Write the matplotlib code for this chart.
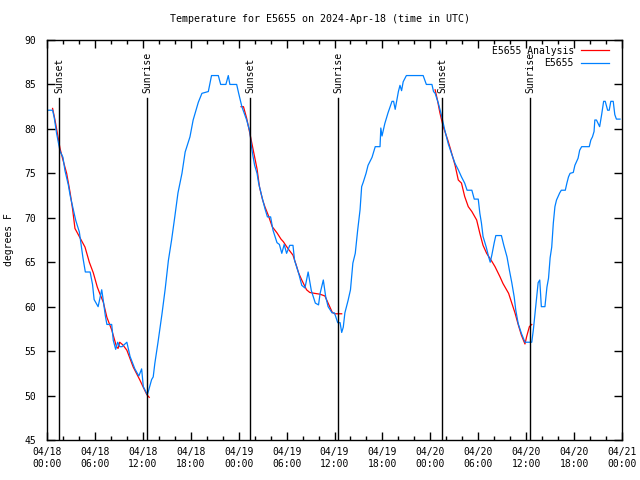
import matplotlib
matplotlib.use("Agg")
import matplotlib.pyplot as plt
import matplotlib.dates as mdates
import numpy as np
from datetime import datetime, timedelta

title = "Temperature for E5655 on 2024-Apr-18 (time in UTC)"
start = datetime(2024, 4, 18, 0, 0)

# station observations (hours since 04/18 00:00, deg F)
obs_hours = [0.0, 0.7, 0.9, 1.2, 1.63, 2.0, 2.25, 2.67, 2.9, 3.3, 3.6, 4.05, 4.3, 4.5,
             4.8, 5.4, 5.7, 5.9, 6.4, 6.85, 7.0, 7.3, 7.5, 8.1, 8.3, 8.6, 8.85, 9.1,
             9.4, 10.0, 10.4, 11.0, 11.5, 11.85, 12.06, 12.56, 12.7, 13.1, 13.3, 13.5,
             13.9, 14.4, 14.8, 15.2, 15.6, 16.0, 16.4, 16.9, 17.3, 17.9, 18.3, 18.95,
             19.4, 20.2, 20.6, 21.45, 21.75, 22.4, 22.7, 22.9, 23.75, 24.0, 24.4, 25.0,
             25.4, 25.6, 25.8, 26.0, 26.3, 26.5, 26.9, 27.3, 27.6, 28.0, 28.3, 28.8,
             29.1, 29.4, 29.7, 30.0, 30.4, 30.8, 31.0, 31.5, 31.9, 32.3, 32.7, 33.1,
             33.6, 34.0, 34.2, 34.6, 34.9, 35.2, 35.7, 36.0, 36.4, 36.7, 36.9, 37.1,
             37.3, 37.7, 38.0, 38.3, 38.6, 38.9, 39.2, 39.4, 39.6, 39.95, 40.2, 40.7,
             41.1, 41.7, 41.8, 41.95, 42.3, 42.7, 43.2, 43.4, 43.6, 44.0, 44.2, 44.4,
             44.6, 45.0, 47.1, 47.5, 48.2, 48.4, 48.6, 49.0, 49.4, 49.8, 50.25, 50.7,
             51.1, 51.5, 51.9, 52.3, 52.6, 53.2, 53.5, 54.0, 54.2, 54.4, 54.6, 55.0,
             55.3, 55.5, 55.7, 56.0, 56.2, 56.9, 57.2, 57.6, 57.9, 58.2, 58.5, 58.7,
             59.0, 59.4, 59.85, 60.7, 60.9, 61.2, 61.5, 61.7, 61.8, 61.9, 62.35, 62.6,
             62.8, 63.0, 63.2, 63.4, 63.6, 63.8, 64.2, 64.4, 64.9, 65.1, 65.3, 65.5,
             65.9, 66.1, 66.5, 66.7, 66.95, 67.9, 68.1, 68.3, 68.5, 68.6, 68.8, 69.2,
             69.45, 69.7, 69.9, 70.2, 70.4, 70.6, 70.9, 71.1, 71.3, 71.75]
obs_temps = [82.1, 82.1, 81.3, 79.5, 77.5, 76.8, 75.3, 73.7, 72.5, 70.9, 69.7, 68.4, 66.8, 65.5,
             63.9, 63.9, 62.5, 60.8, 60.0, 61.9, 61.0, 59.0, 58.0, 58.0, 56.2, 55.2, 56.0, 55.5,
             55.5, 56.0, 54.4, 53.0, 52.2, 53.0, 51.0, 50.1, 50.5, 51.8, 52.1, 53.6,
             56.0, 59.2, 62.0, 65.2, 67.5, 70.1, 72.8, 75.0, 77.4, 79.1, 81.0, 83.0,
             84.0, 84.2, 86.0, 86.0, 85.0, 85.0, 86.0, 85.0, 85.0, 84.0, 82.5, 81.0,
             79.7, 78.0, 76.9, 75.9, 75.0, 73.9, 72.4, 71.0, 70.1, 70.1, 68.6, 67.2,
             67.0, 66.0, 67.0, 66.0, 66.9, 66.9, 65.2, 63.8, 62.4, 62.1, 63.9, 61.8,
             60.4, 60.2, 61.5, 63.0, 61.1, 60.0, 59.3, 59.3, 58.2, 58.2, 57.1, 57.7,
             59.3, 60.7, 61.9, 64.9, 66.0, 68.6, 70.9, 73.5, 74.0, 75.0, 75.9, 76.8,
             78.0, 78.0, 80.1, 79.2, 80.6, 81.8, 83.1, 83.1, 82.2, 84.2, 84.9, 84.3,
             85.3, 86.0, 86.0, 85.0, 85.0, 84.2, 84.0, 82.9, 81.5, 79.9, 78.3, 77.1,
             76.1, 75.4, 74.6, 73.9, 73.1, 73.1, 72.1, 72.1, 70.5, 69.4, 67.9, 66.7,
             65.6, 65.0, 65.8, 67.2, 68.0, 68.0, 66.9, 65.6, 64.1, 62.7, 61.1, 59.6,
             58.1, 57.0, 56.0, 56.0, 57.4, 60.0, 62.7, 63.0, 61.5, 60.0, 60.0, 62.2,
             63.2, 65.5, 66.7, 69.4, 71.25, 72.0, 72.8, 73.1, 73.1, 73.9, 74.6, 75.0,
             75.1, 75.9, 76.7, 77.6, 78.0, 78.0, 78.75, 79.1, 79.7, 81.0, 81.0, 80.25,
             81.6, 83.1, 83.1, 82.1, 82.1, 83.1, 83.1, 81.6, 81.1, 81.1]

# analysis, night-time only (nan separates the three nights)
ana_hours = [0.7, 1.0, 1.3, 1.63, 2.0, 2.46, 2.9, 3.2, 3.5, 4.1, 4.76, 5.3, 5.8, 6.3, 6.6,
             7.05, 7.5, 8.1, 8.7, 8.9, 9.1, 9.5, 10.0, 10.8, 11.6, 12.5, 12.8, np.nan,
             24.3, 24.6, 25.0, 25.4, 25.85, 26.3, 26.6, 27.0, 27.3, 27.7, 28.2, 28.8,
             29.3, 29.6, 30.2, 30.8, 31.2, 31.5, 31.9, 32.5, 32.9, 33.5, 34.2, 34.8,
             35.2, 35.7, 36.0, 36.9, np.nan,
             48.6, 48.9, 49.2, 49.6, 50.2, 50.5, 51.1, 51.5, 51.9, 52.3, 52.75, 53.2,
             53.8, 54.2, 54.6, 55.05, 55.7, 56.1, 56.7, 57.1, 57.8, 58.2, 58.6, 59.0,
             59.4, 59.85, 60.05, 60.4, 60.7]
ana_temps = [82.3, 81.0, 79.5, 77.8, 76.5, 75.0, 72.8, 71.0, 68.8, 67.8, 66.7, 65.0, 63.8, 62.2, 61.5,
             60.5, 58.8, 57.4, 55.5, 55.3, 56.0, 55.7, 55.1, 53.2, 51.8, 50.1, 49.8, np.nan,
             82.5, 82.5, 81.2, 79.5, 77.5, 75.5, 73.5, 72.0, 71.2, 70.3, 69.0, 68.3,
             67.6, 67.3, 66.5, 65.8, 64.7, 63.8, 63.0, 61.9, 61.6, 61.5, 61.4, 61.2,
             60.4, 59.4, 59.2, 59.2, np.nan,
             84.4, 83.2, 81.8, 80.3, 78.7, 77.8, 75.9, 74.25, 73.9, 72.4, 71.25, 70.7,
             69.75, 68.25, 66.9, 66.0, 65.1, 64.5, 63.4, 62.6, 61.5, 60.4, 59.3, 58.0,
             56.8, 55.8, 56.6, 57.75, 58.0]

events = ["Sunset", "Sunrise", "Sunset", "Sunrise", "Sunset", "Sunrise"]
event_hours = [1.55, 12.55, 25.42, 36.48, 49.5, 60.48]


def hours_to_num(h):
    if np.isnan(h):
        return np.nan
    return mdates.date2num(start + timedelta(hours=h))


plt.rcParams['font.family'] = ['DejaVu Sans Mono']
plt.rcParams['font.size'] = 7

fig = plt.figure(figsize=(6.4, 4.8), dpi=100)
ax = fig.add_axes([47 / 640, 40 / 480, 575 / 640, 400 / 480])

ana_x = [hours_to_num(h) for h in ana_hours]
obs_x = [hours_to_num(h) for h in obs_hours]

ax.plot(ana_x, ana_temps, color='#ff0000', lw=0.9, label='E5655 Analysis')
ax.plot(obs_x, obs_temps, color='#0080ff', lw=0.9, label='E5655')

# sunrise / sunset markers
for name, h in zip(events, event_hours):
    t = hours_to_num(h)
    ax.plot([t, t], [0, 0.855], color='black', lw=1.0,
            transform=ax.get_xaxis_transform())
    ax.text(t, 0.868, name, rotation=90, ha='center', va='bottom',
            transform=ax.get_xaxis_transform())

ax.set_xlim(hours_to_num(0), hours_to_num(72))
ax.set_ylim(45, 90)
ax.set_yticks(np.arange(45, 91, 5))
ax.xaxis.set_major_locator(mdates.HourLocator(byhour=[0, 6, 12, 18]))
ax.xaxis.set_minor_locator(mdates.HourLocator(interval=2))
ax.xaxis.set_major_formatter(mdates.DateFormatter('%m/%d\n%H:%M'))
ax.tick_params(which='both', direction='in', top=True, right=True, width=1)
ax.tick_params(which='major', length=6)
ax.tick_params(which='minor', length=3)
ax.tick_params(axis='x', which='major', pad=5)
ax.tick_params(axis='y', which='major', pad=8)
for s in ax.spines.values():
    s.set_linewidth(1.0)

ax.set_ylabel('degrees F')
ax.yaxis.set_label_coords(-0.058, 0.5)
fig.text(0.5, 1 - 19 / 480, title, ha='center', va='center', fontsize=7.2)

ax.legend(loc='upper right', bbox_to_anchor=(0.984, 0.995), borderaxespad=0,
          frameon=False, markerfirst=False, handlelength=2.9,
          labelspacing=0.25, handletextpad=0.7)

plt.savefig('out.png')
plt.close()
